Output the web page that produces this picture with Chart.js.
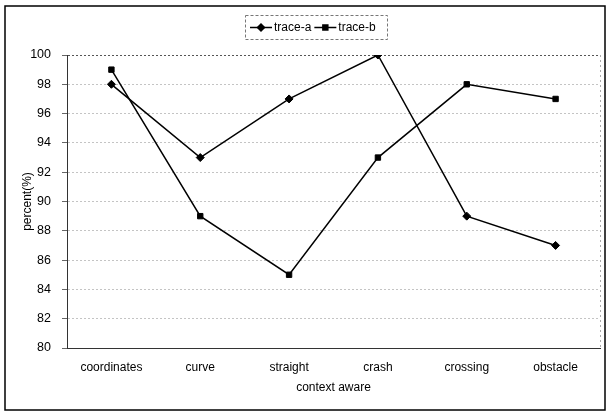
<!DOCTYPE html>
<html>
<head>
<meta charset="utf-8">
<script src="https://cdn.jsdelivr.net/npm/chart.js@4"></script>
<style>
  html, body { margin: 0; padding: 0; background: #fff; }
  #wrap { width: 607px; height: 412px; }
</style>
</head>
<body>
<div id="wrap"><canvas id="c" width="607" height="412"></canvas></div>
<script>
// Categories along the x axis
const categories = ['coordinates', 'curve', 'straight', 'crash', 'crossing', 'obstacle'];
// Series values (percent)
const traceA = [98, 93, 97, 100, 89, 87];
const traceB = [99, 89, 85, 93, 98, 97];
// Series names
const seriesNames = ['trace-a', 'trace-b'];
// Y axis range
const yMin = 80, yMax = 100, yStep = 2;

const FONT = 'Liberation Sans, Arial, sans-serif';

// Outer frame and the legend box with line+marker samples
const framePlugin = {
  id: 'frame',
  afterDraw(chart) {
    const ctx = chart.ctx;
    ctx.save();
    // outer frame
    ctx.strokeStyle = '#000';
    ctx.lineWidth = 1.5;
    ctx.strokeRect(5, 6, 600, 404);

    // right edge of the plot area, faint dotted
    const a = chart.chartArea;
    ctx.strokeStyle = '#aaa';
    ctx.lineWidth = 1;
    ctx.setLineDash([2, 3]);
    ctx.beginPath();
    ctx.moveTo(a.right + 0.5, a.top);
    ctx.lineTo(a.right + 0.5, a.bottom);
    ctx.stroke();

    // legend box
    const lx = 245, ly = 15, lw = 142, lh = 24;
    ctx.strokeStyle = '#777';
    ctx.setLineDash([3, 2]);
    ctx.strokeRect(lx + 0.5, ly + 0.5, lw, lh);
    ctx.setLineDash([]);

    const cy = ly + lh / 2 + 0.5;
    const styles = ['rectRot', 'rect'];
    let x = lx + 5;
    ctx.font = '12px ' + FONT;
    ctx.textBaseline = 'middle';
    chart.data.datasets.forEach((ds, i) => {
      ctx.strokeStyle = '#000';
      ctx.lineWidth = 1.5;
      ctx.beginPath();
      ctx.moveTo(x, cy);
      ctx.lineTo(x + 22, cy);
      ctx.stroke();
      Chart.helpers.drawPoint(ctx, { pointStyle: styles[i], radius: 3.5, borderWidth: 1 }, x + 11, cy);
      ctx.fillStyle = '#000';
      ctx.fillText(seriesNames[i], x + 24, cy);
      x += 24 + ctx.measureText(seriesNames[i]).width + 3;
    });
    ctx.restore();
  }
};

const chart = new Chart(document.getElementById('c'), {
  type: 'line',
  data: {
    labels: categories,
    datasets: [
      {
        label: seriesNames[0],
        data: traceA,
        borderColor: '#000',
        backgroundColor: '#000',
        borderWidth: 1.5,
        pointStyle: 'rectRot',
        pointRadius: 4,
        pointBorderWidth: 1,
        tension: 0
      },
      {
        label: seriesNames[1],
        data: traceB,
        borderColor: '#000',
        backgroundColor: '#000',
        borderWidth: 1.5,
        pointStyle: 'rect',
        pointRadius: 3.8,
        pointBorderWidth: 1,
        tension: 0
      }
    ]
  },
  options: {
    responsive: false,
    animation: false,
    devicePixelRatio: 1,
    layout: { padding: { top: 55, left: 8, right: 7, bottom: 10 } },
    plugins: {
      legend: { display: false },
      tooltip: { enabled: false }
    },
    scales: {
      x: {
        offset: true,
        grid: { display: false, drawTicks: false },
        border: { color: '#333', width: 1 },
        ticks: {
          color: '#000',
          font: { family: FONT, size: 12 },
          padding: 12,
          maxRotation: 0
        },
        title: {
          display: true,
          text: 'context aware',
          color: '#000',
          font: { family: FONT, size: 12 },
          padding: { top: 0, bottom: 7 }
        },
        afterFit(scale) { scale.height = 54; }
      },
      y: {
        min: yMin,
        max: yMax,
        ticks: {
          stepSize: yStep,
          color: '#000',
          font: { family: FONT, size: 12.5 },
          padding: 11
        },
        grid: {
          color: (c) => c.tick && c.tick.value === yMax ? '#555' : '#c4c4c4',
          lineWidth: 1,
          tickLength: 5,
          tickColor: '#666',
          tickBorderDash: [],
          borderDash: [3, 6]
        },
        border: { color: '#333', width: 1, dash: [2, 2] },
        title: {
          display: true,
          text: 'percent(%)',
          color: '#000',
          font: { family: FONT, size: 12 },
          padding: { top: 12, bottom: 0 }
        },
        afterFit(scale) { scale.width = 59; }
      }
    }
  },
  plugins: [framePlugin]
});
</script>
</body>
</html>
